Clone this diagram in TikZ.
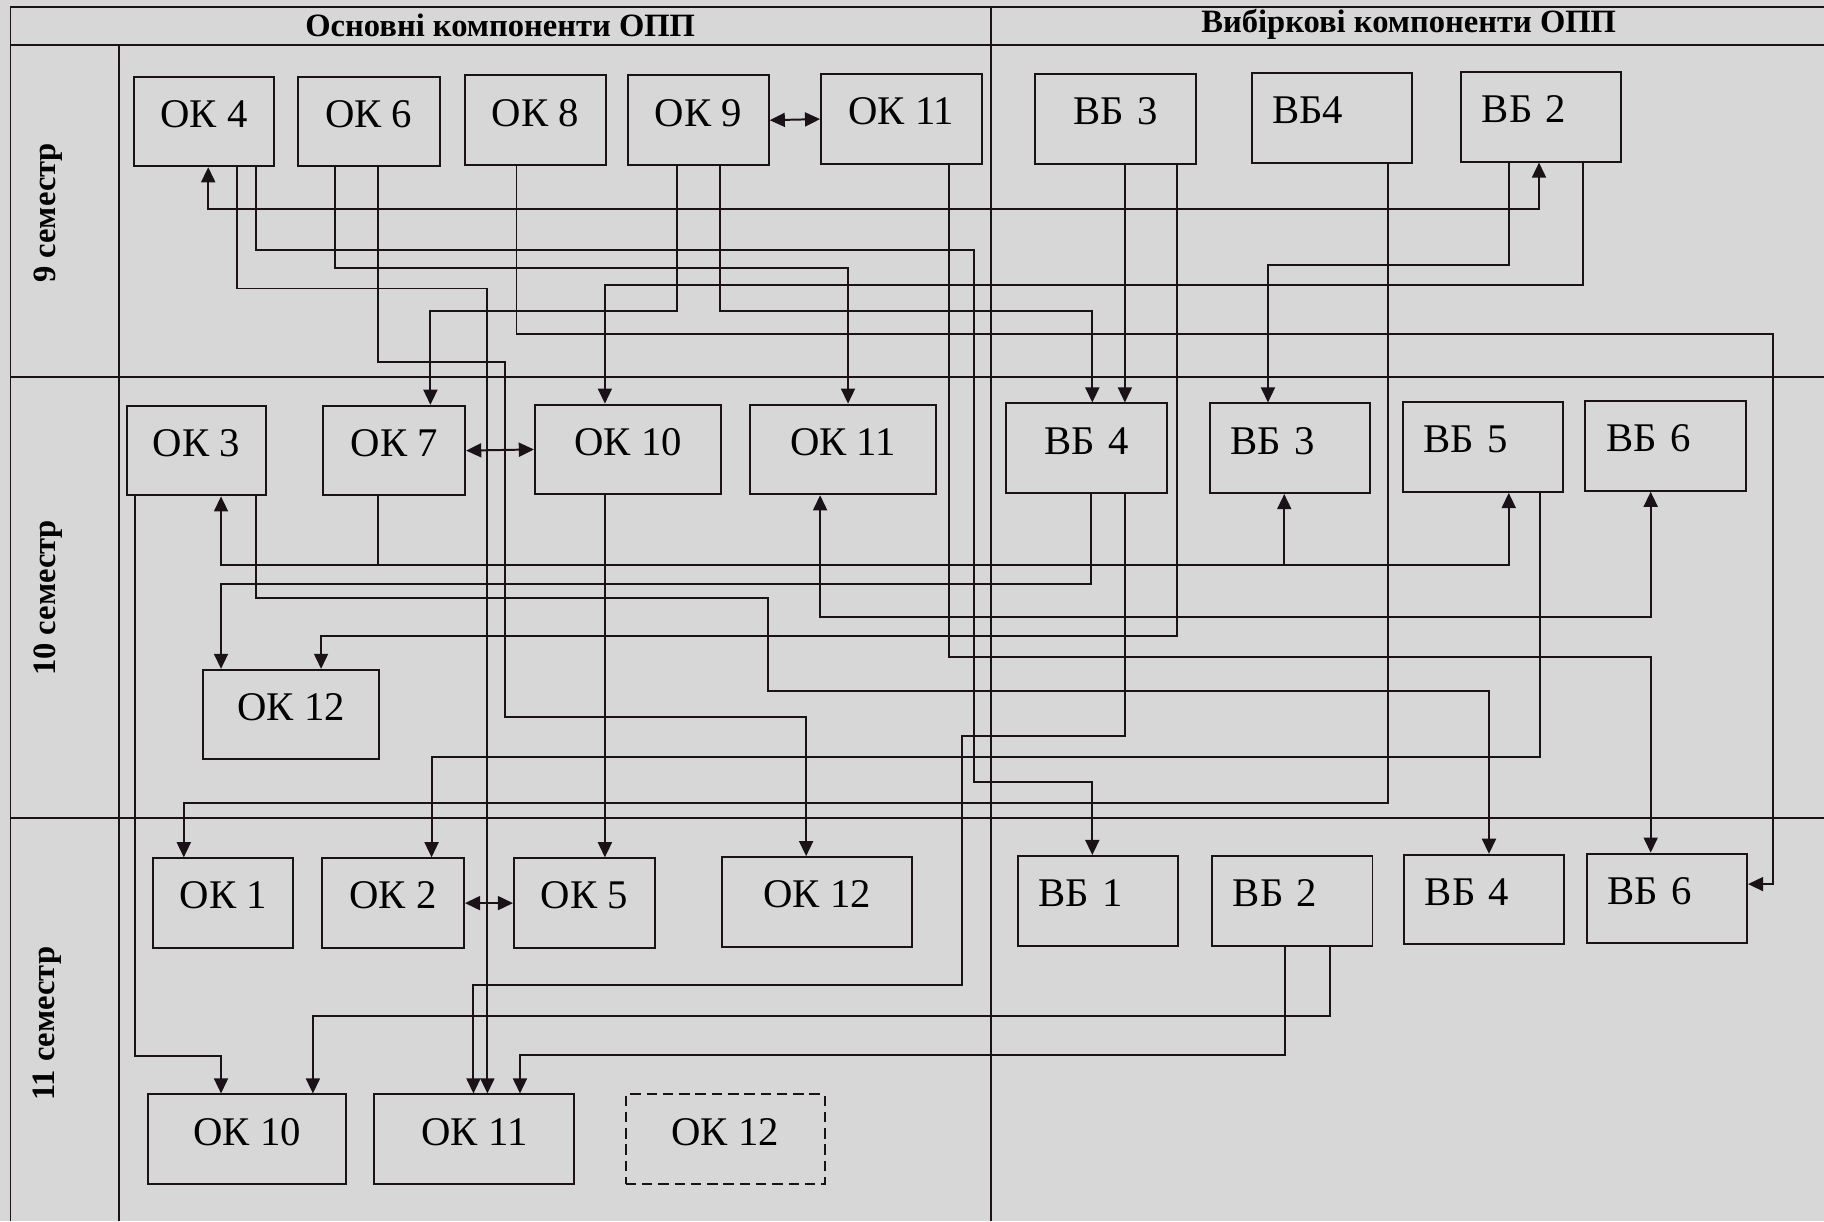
\documentclass[tikz,border=0pt]{standalone}
\usepackage{fontspec}
\setmainfont{Liberation Serif}
\usetikzlibrary{arrows.meta}
\definecolor{paper}{HTML}{D7D7D7}
\definecolor{ink}{HTML}{1A1216}

\begin{document}
\begin{tikzpicture}[x=1pt,y=-1pt,line width=1.7pt,
  >={Triangle[length=13pt,width=12pt]},
  box/.style={draw=ink,anchor=north west,minimum width=#1,minimum height=77pt,
    inner sep=0pt,text height=26pt,text depth=16pt,font=\fontsize{35}{40}\selectfont},
  vbbox/.style={box=138pt,text width=102pt,inner xsep=18pt,align=left},
  head/.style={font=\bfseries\fontsize{28}{32}\selectfont},
  conn/.style={draw=ink,->}]
\fill[paper] (0,0) rectangle (1568,1050);
\useasboundingbox (0,0) rectangle (1568,1050);
% table
\draw[ink,line width=1.5pt] (9,6) -- (1568,6) (9,39) -- (1568,39) (9,6) -- (9,1050)
  (102,39) -- (102,1050) (852,6) -- (852,1050) (9,324) -- (1568,324) (9,703) -- (1568,703);
\node[head] (hdok) at (430,22) {Основні компоненти ОПП};
\node[head] (hdvb) at (1211,21) {Вибіркові компоненти ОПП};
\node[head,rotate=90] (sem9) at (41,183) {9 семестр};
\node[head,rotate=90] (sem10) at (41,514) {10 семестр};
\node[head,rotate=90] (sem11) at (41,880) {11 семестр};

% 9 semester
\node[box=121pt] (ok4a) at (114,65) {ОК 4};
\node[box=122pt] (ok6a) at (255,65) {ОК 6};
\node[box=121pt] (ok8a) at (399,64) {ОК 8};
\node[box=121pt] (ok9a) at (539,64) {ОК 9};
\node[box=138pt] (ok11a) at (705,63) {ОК 11};
\node[vbbox,align=center] (vb3a) at (889,63) {ВБ 3};
\node[vbbox] (vb4a) at (1075,62) {ВБ4};
\node[vbbox] (vb2a) at (1255,61) {ВБ 2};

% 10 semester
\node[box=120pt] (ok3b) at (108,348) {ОК 3};
\node[box=122pt] (ok7b) at (277,348) {ОК 7};
\node[box=160pt] (ok10b) at (459,347) {ОК 10};
\node[box=160pt] (ok11b) at (644,347) {ОК 11};
\node[vbbox,align=center] (vb4b) at (864,346) {ВБ 4};
\node[vbbox] (vb3b) at (1039,346) {ВБ 3};
\node[vbbox] (vb5b) at (1205,345) {ВБ 5};
\node[vbbox] (vb6b) at (1362,344) {ВБ 6};
\node[box=151pt] (ok12b) at (174,575) {ОК 12};

% 11 semester
\node[box=120pt] (ok1c) at (131,737) {ОК 1};
\node[box=122pt] (ok2c) at (276,737) {ОК 2};
\node[box=121pt] (ok5c) at (441,737) {ОК 5};
\node[box=163pt] (ok12c) at (620,736) {ОК 12};
\node[vbbox] (vb1c) at (874,735) {ВБ 1};
\node[vbbox] (vb2c) at (1041,735) {ВБ 2};
\node[vbbox] (vb4c) at (1206,734) {ВБ 4};
\node[vbbox] (vb6c) at (1363,733) {ВБ 6};
\node[box=171pt] (ok10c) at (126,940) {ОК 10};
\node[box=172pt] (ok11c) at (321,940) {ОК 11};
\node[box=171pt,dash pattern=on 9pt off 5pt] (ok12d) at (537,940) {ОК 12};

% links inside a semester
\draw[conn,<->] (ok9a.east) -- (ok11a.west);
\draw[conn,<->] (ok7b.east) -- (ok10b.west);
\draw[conn,<->] (ok2c.east) -- (ok5c.west);

% from 9 semester
\draw[conn,<->] (ok4a.south -| 179,0) -- (179,180) -| (vb2a.south -| 1323,0);
\draw[conn] (ok4a.south -| 204,0) -- (204,248) -| (ok11c.north -| 419,0);
\draw[conn] (ok4a.south -| 220,0) -- (220,215) -| (837,672) -| (vb1c.north -| 939,0);
\draw[conn] (ok6a.south -| 288,0) -- (288,230) -| (ok11b.north -| 729,0);
\draw[conn] (ok6a.south -| 325,0) -- (325,311) -| (434,616) -| (ok12c.north -| 693,0);
\draw[conn] (ok8a.south -| 444,0) -- (444,287) -| (1524,760) -- (vb6c.east |- 0,760);
\draw[conn] (ok9a.south -| 582,0) -- (582,267) -| (ok7b.north -| 370,0);
\draw[conn] (ok9a.south -| 619,0) -- (619,267) -| (vb4b.north -| 939,0);
\draw[conn] (ok11a.south -| 816,0) -- (816,565) -| (vb6c.north -| 1419,0);
\draw[conn] (vb3a.south -| 967,0) -- (vb4b.north -| 967,0);
\draw[conn] (vb3a.south -| 1012,0) -- (1012,547) -| (ok12b.north -| 276,0);
\draw[conn] (vb4a.south -| 1193,0) -- (1193,690) -| (ok1c.north -| 158,0);
\draw[conn] (vb2a.south -| 1297,0) -- (1297,228) -| (vb3b.north -| 1090,0);
\draw[conn] (vb2a.south -| 1361,0) -- (1361,245) -| (ok10b.north -| 520,0);

% from 10 semester
\draw[conn] (ok7b.south -| 325,0) -- (325,486) -| (ok3b.south -| 190,0);
\draw[conn] (ok7b.south -| 325,0) -- (325,486) -| (vb3b.south -| 1104,0);
\draw[conn] (ok7b.south -| 325,0) -- (325,486) -| (vb5b.south -| 1297,0);
\draw[conn] (vb4b.south -| 938,0) -- (938,502) -| (ok12b.north -| 190,0);
\draw[conn] (ok3b.south -| 116,0) -- (116,908) -| (ok10c.north -| 190,0);
\draw[conn] (ok3b.south -| 220,0) -- (220,514) -| (660,594) -| (vb4c.north -| 1280,0);
\draw[conn] (ok10b.south -| 520,0) -- (ok5c.north -| 520,0);
\draw[conn,<->] (ok11b.south -| 705,0) -- (705,530) -| (vb6b.south -| 1419,0);
\draw[conn] (vb4b.south -| 967,0) -- (967,633) -| (827,847) -| (ok11c.north -| 407,0);
\draw[conn] (vb5b.south -| 1324,0) -- (1324,651) -| (ok2c.north -| 371,0);

% from 11 semester
\draw[conn] (vb2c.south -| 1143,0) -- (1143,873) -| (ok10c.north -| 269,0);
\draw[conn] (vb2c.south -| 1105,0) -- (1105,907) -| (ok11c.north -| 447,0);
\end{tikzpicture}
\end{document}
